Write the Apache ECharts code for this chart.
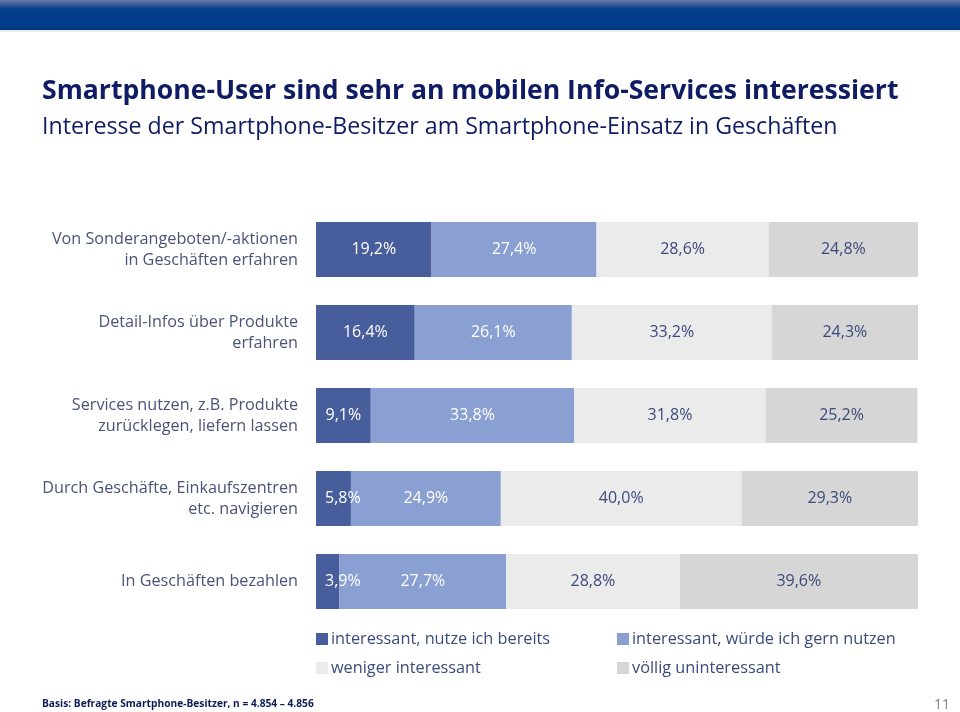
<!DOCTYPE html>
<html>
<head>
<meta charset="utf-8">
<script src="https://cdn.jsdelivr.net/npm/echarts@6/dist/echarts.min.js"></script>
<style>
html,body{margin:0;padding:0;background:#fff;}
#main{width:960px;height:712px;}
</style>
</head>
<body>
<div id="main"></div>
<script>
const categories = [
  'Von Sonderangeboten/-aktionen\nin Geschäften erfahren',
  'Detail-Infos über Produkte\nerfahren',
  'Services nutzen, z.B. Produkte\nzurücklegen, liefern lassen',
  'Durch Geschäfte, Einkaufszentren\netc. navigieren',
  'In Geschäften bezahlen'
];
const seriesNames = [
  'interessant, nutze ich bereits',
  'interessant, würde ich gern nutzen',
  'weniger interessant',
  'völlig uninteressant'
];
const nutzeBereits = [19.2, 16.4, 9.1, 5.8, 3.9];
const gernNutzen = [27.4, 26.1, 33.8, 24.9, 27.7];
const wenigerInteressant = [28.6, 33.2, 31.8, 40.0, 28.8];
const voelligUninteressant = [24.8, 24.3, 25.2, 29.3, 39.6];

const FONT = 'Open Sans';
const colors = ['#485e9c', '#8aa0d3', '#ebebeb', '#d6d6d6'];
const labelColors = ['#ffffff', '#ffffff', '#3a4a7c', '#3a4a7c'];
const values = [nutzeBereits, gernNutzen, wenigerInteressant, voelligUninteressant];

function fmt(v) { return v.toFixed(1).replace('.', ',') + '%'; }

const series = values.map((arr, i) => ({
  name: seriesNames[i],
  type: 'bar',
  stack: 'total',
  barWidth: 55,
  itemStyle: { color: colors[i] },
  emphasis: { disabled: true },
  data: arr.map((v) => {
    const d = { value: v };
    if (i === 0 && v < 8) {
      d.label = { position: 'insideLeft', distance: 9 };
    }
    return d;
  }),
  label: {
    show: true,
    position: 'inside',
    color: labelColors[i],
    fontFamily: FONT,
    fontSize: 16,
    formatter: (p) => fmt(p.value)
  }
}));

const legendText = { fontFamily: FONT, fontSize: 16.3, color: '#3a4a7c', padding: [0, 0, 0, -2] };

const chart = echarts.init(document.getElementById('main'));
chart.setOption({
  animation: false,
  backgroundColor: '#ffffff',
  graphic: [
    {
      type: 'rect',
      shape: { x: 0, y: 0, width: 960, height: 30 },
      style: {
        fill: {
          type: 'linear', x: 0, y: 0, x2: 0, y2: 1,
          colorStops: [
            { offset: 0, color: '#6a78a6' },
            { offset: 0.3, color: '#063f8a' },
            { offset: 0.9, color: '#003c88' },
            { offset: 1, color: '#00306f' }
          ]
        }
      },
      silent: true
    },
    {
      type: 'rect',
      shape: { x: 0, y: 30, width: 960, height: 2 },
      style: { fill: '#e6eef6' },
      silent: true
    },
    {
      type: 'text', left: 42, top: 78,
      style: { text: 'Smartphone-User sind sehr an mobilen Info-Services interessiert', fill: '#0f1b62', font: 'bold 26.6px "' + FONT + '"' }
    },
    {
      type: 'text', left: 42, top: 116,
      style: { text: 'Interesse der Smartphone-Besitzer am Smartphone-Einsatz in Geschäften', fill: '#0f1b62', font: '23.2px "' + FONT + '"' }
    },
    {
      type: 'text', left: 42, top: 699,
      style: { text: 'Basis: Befragte Smartphone-Besitzer, n = 4.854 – 4.856', fill: '#0f1b55', font: 'bold 10.2px "' + FONT + '"' }
    },
    {
      type: 'text', right: 10, top: 698,
      style: { text: '11', fill: '#808080', font: '14px "' + FONT + '"', align: 'right' }
    }
  ],
  legend: [
    {
      data: [seriesNames[0], seriesNames[2]],
      orient: 'vertical', left: 316, top: 631, padding: 0,
      itemWidth: 12, itemHeight: 12, itemGap: 13, icon: 'rect',
      textStyle: legendText,
      selectedMode: false
    },
    {
      data: [seriesNames[1], seriesNames[3]],
      orient: 'vertical', left: 617, top: 631, padding: 0,
      itemWidth: 12, itemHeight: 12, itemGap: 13, icon: 'rect',
      textStyle: legendText,
      selectedMode: false
    }
  ],
  grid: { left: 316, right: 42, top: 208, bottom: 89, containLabel: false },
  xAxis: {
    type: 'value', min: 0, max: 100, show: false
  },
  yAxis: {
    type: 'category', data: categories, inverse: true,
    axisLine: { show: false }, axisTick: { show: false },
    axisLabel: {
      margin: 18, fontFamily: FONT, fontSize: 16.2, color: '#4a5379',
      lineHeight: 21, align: 'right'
    }
  },
  series: series
});
</script>
</body>
</html>
